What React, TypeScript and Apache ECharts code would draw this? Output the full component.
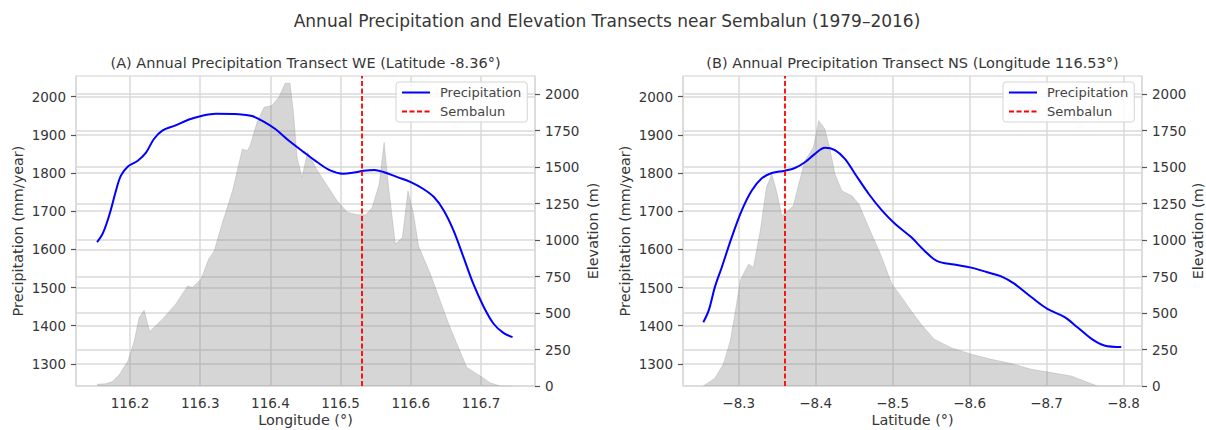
import React, { useEffect, useRef } from "react";
import * as echarts from "echarts";

// ---------- (A) West–East transect (latitude -8.36°) ----------
const wePrecipLon = [
  116.153, 116.161, 116.171, 116.18, 116.187, 116.197, 116.211, 116.223, 116.234, 116.246,
  116.264, 116.284, 116.303, 116.322, 116.355, 116.374, 116.388, 116.407, 116.426, 116.448,
  116.467, 116.486, 116.503, 116.519, 116.533, 116.548, 116.562, 116.581, 116.6, 116.618,
  116.633, 116.647, 116.661, 116.675, 116.689, 116.704, 116.718, 116.732, 116.745,
];
const wePrecipMm = [
  1619, 1641, 1693, 1754, 1793, 1817, 1832, 1854, 1889, 1911,
  1924, 1940, 1950, 1955, 1954, 1949, 1937, 1915, 1885, 1854,
  1828, 1806, 1798, 1801, 1806, 1808, 1802, 1789, 1776, 1758,
  1737, 1702, 1649, 1580, 1510, 1449, 1405, 1381, 1370,
];
const weElevLon = [
  116.153, 116.165, 116.175, 116.185, 116.197, 116.206, 116.213, 116.22, 116.228, 116.246,
  116.265, 116.282, 116.289, 116.301, 116.312, 116.32, 116.331, 116.346, 116.36, 116.367,
  116.371, 116.381, 116.391, 116.402, 116.412, 116.421, 116.428, 116.433, 116.438, 116.445,
  116.453, 116.467, 116.481, 116.495, 116.51, 116.524, 116.536, 116.545, 116.555, 116.562,
  116.569, 116.578, 116.588, 116.596, 116.604, 116.611, 116.628, 116.642, 116.656, 116.67,
  116.68, 116.699, 116.713, 116.727, 116.745,
];
const weElevM = [
  12, 15, 30, 80, 172, 309, 469, 520, 373, 458,
  561, 686, 675, 732, 870, 927, 1110, 1338, 1625, 1613,
  1647, 1808, 1911, 1922, 1979, 2075, 2075, 1865, 1568, 1430,
  1602, 1476, 1373, 1270, 1190, 1174, 1174, 1224, 1384, 1670,
  1338, 973, 1018, 1338, 1178, 961, 767, 583, 401, 240,
  126, 69, 23, 0, 0,
];
const sembalunLon = 116.53;

// ---------- (B) North–South transect (longitude 116.53°) ----------
const nsPrecipLat = [
  -8.254, -8.261, -8.269, -8.278, -8.291, -8.304, -8.317, -8.33, -8.343, -8.36,
  -8.373, -8.386, -8.399, -8.412, -8.425, -8.438, -8.451, -8.469, -8.486, -8.503,
  -8.524, -8.541, -8.558, -8.58, -8.602, -8.623, -8.641, -8.658, -8.68, -8.701,
  -8.723, -8.74, -8.758, -8.775, -8.797,
];
const nsPrecipMm = [
  1409, 1440, 1501, 1553, 1632, 1702, 1754, 1786, 1800, 1806,
  1813, 1828, 1850, 1866, 1860, 1837, 1798, 1745, 1702, 1667,
  1632, 1597, 1569, 1560, 1552, 1540, 1529, 1510, 1475, 1444,
  1423, 1396, 1366, 1348, 1344,
];
const nsElevLat = [
  -8.254, -8.269, -8.28, -8.289, -8.295, -8.302, -8.308, -8.313, -8.319, -8.328,
  -8.336, -8.343, -8.349, -8.356, -8.364, -8.371, -8.378, -8.386, -8.397, -8.404,
  -8.412, -8.419, -8.425, -8.434, -8.447, -8.456, -8.469, -8.486, -8.499, -8.512,
  -8.524, -8.537, -8.554, -8.576, -8.602, -8.628, -8.654, -8.68, -8.706, -8.732,
  -8.749, -8.766, -8.797,
];
const nsElevM = [
  0, 53, 149, 309, 492, 721, 789, 835, 813, 1064,
  1362, 1453, 1338, 1167, 1201, 1235, 1384, 1544, 1636, 1819,
  1762, 1613, 1453, 1338, 1304, 1247, 1087, 881, 698, 607,
  515, 423, 321, 263, 218, 183, 154, 115, 92, 69,
  34, 0, 0,
];
const sembalunLat = -8.36;

// ---------- tick labels ----------
const precipTicks = [1300, 1400, 1500, 1600, 1700, 1800, 1900, 2000];
const elevTicks = [0, 250, 500, 750, 1000, 1250, 1500, 1750, 2000];

const zip = (a: number[], b: number[]) => a.map((v, i) => [v, b[i]]);

const FONT = "DejaVu Sans";
const TXT = "#363636";
const GRIDC = "#dadada";
const TICK_FS = 13.5;

const isMult = (v: number, step: number) => Math.abs(v / step - Math.round(v / step)) < 1e-6;

export default function App() {
  const ref = useRef<HTMLDivElement>(null);
  useEffect(() => {
    const chart = echarts.init(ref.current!, null, { renderer: "svg" });

    const splitLine = { show: true, lineStyle: { color: GRIDC, width: 1.5 } };
    const yTick = { show: true, length: 5, lineStyle: { color: "#555", width: 1.2 } };

    const xAxisBase = (gi: number, min: number, max: number, inverse: boolean) => ({
      gridIndex: gi,
      type: "value",
      min,
      max,
      inverse,
      minInterval: 0.1,
      maxInterval: 0.1,
      axisLine: { show: false },
      axisTick: { show: false },
      axisLabel: {
        fontSize: TICK_FS,
        fontFamily: FONT,
        color: TXT,
        margin: 10,
        formatter: (v: number) =>
          isMult(v, 0.1) ? v.toFixed(1).replace("-", "\u2212") : "",
      },
      splitLine,
    });

    const yLeft = (gi: number) => ({
      gridIndex: gi,
      type: "value",
      position: "left",
      min: 1242,
      max: 2054,
      minInterval: 100,
      maxInterval: 100,
      axisLine: { show: false },
      axisTick: { ...yTick, customValues: precipTicks },
      axisLabel: {
        fontSize: TICK_FS,
        fontFamily: FONT,
        color: TXT,
        margin: 10,
        customValues: precipTicks,
        formatter: (v: number) => (isMult(v, 100) ? String(Math.round(v)) : ""),
      },
      splitLine,
    });

    const yRight = (gi: number) => ({
      gridIndex: gi,
      type: "value",
      position: "right",
      min: 0,
      max: 2125,
      interval: 250,
      axisLine: { show: false },
      axisTick: { ...yTick, customValues: elevTicks },
      axisLabel: {
        fontSize: TICK_FS,
        fontFamily: FONT,
        color: TXT,
        margin: 10,
        customValues: elevTicks,
        formatter: (v: number) => (isMult(v, 250) ? String(Math.round(v)) : ""),
      },
      splitLine,
    });

    const elevSeries = (xi: number, yi: number, data: number[][]) => ({
      name: "Elevation",
      type: "line",
      xAxisIndex: xi,
      yAxisIndex: yi,
      data,
      symbol: "none",
      silent: true,
      z: 1,
      lineStyle: { width: 0.8, color: "rgba(128,128,128,0.3)" },
      itemStyle: { color: "rgba(128,128,128,0.3)" },
      areaStyle: { color: "rgba(128,128,128,0.32)", opacity: 1, origin: "start" },
    });

    const precipSeries = (xi: number, yi: number, data: number[][]) => ({
      name: "Precipitation",
      type: "line",
      xAxisIndex: xi,
      yAxisIndex: yi,
      data,
      symbol: "none",
      smooth: 0.35,
      z: 3,
      color: "#0000ff",
      lineStyle: { width: 2, color: "#0000ff" },
    });

    const sembalunSeries = (xi: number, yi: number, x: number) => ({
      name: "Sembalun",
      type: "line",
      xAxisIndex: xi,
      yAxisIndex: yi,
      data: [],
      symbol: "none",
      z: 4,
      color: "#ff0000",
      lineStyle: { width: 1.8, color: "#ff0000", type: [5, 2.5] },
      markLine: {
        symbol: "none",
        silent: true,
        animation: false,
        label: { show: false },
        lineStyle: { width: 1.8, color: "#ff0000", type: [5, 2.5] },
        data: [{ xAxis: x }],
      },
    });

    const legendBase = (left: number) => ({
      left,
      top: 82,
      orient: "vertical",
      data: ["Precipitation", "Sembalun"],
      selectedMode: false,
      itemWidth: 28,
      itemHeight: 14,
      itemGap: 6,
      padding: [4, 6, 4, 5],
      itemStyle: { opacity: 0 },
      backgroundColor: "rgba(255,255,255,0.85)",
      borderColor: "#d4d4d4",
      borderWidth: 1,
      borderRadius: 3,
      textStyle: { fontSize: 13, fontFamily: FONT, color: "#444", padding: [0, 0, 0, 5] },
    });

    const text = (t: string, x: number, y: number, size: number, rot = 0) => ({
      type: "text",
      x,
      y,
      rotation: rot,
      silent: true,
      style: {
        text: t,
        fontSize: size,
        fontFamily: FONT,
        fill: TXT,
        align: "center",
        verticalAlign: "middle",
      },
    });

    chart.setOption({
      animation: false,
      textStyle: { fontFamily: FONT },
      grid: [
        { left: 76, top: 76, width: 459, height: 310, show: true, borderColor: "#cfcfcf", borderWidth: 1.2, backgroundColor: "transparent" },
        { left: 683, top: 76, width: 459, height: 310, show: true, borderColor: "#cfcfcf", borderWidth: 1.2, backgroundColor: "transparent" },
      ],
      xAxis: [xAxisBase(0, 116.123, 116.777, false), xAxisBase(1, -8.824, -8.2276, true)],
      yAxis: [yLeft(0), yRight(0), yLeft(1), yRight(1)],
      legend: [legendBase(396), legendBase(1003)],
      series: [
        elevSeries(0, 1, zip(weElevLon, weElevM)),
        precipSeries(0, 0, zip(wePrecipLon, wePrecipMm)),
        sembalunSeries(0, 0, sembalunLon),
        elevSeries(1, 3, zip(nsElevLat, nsElevM)),
        precipSeries(1, 2, zip(nsPrecipLat, nsPrecipMm)),
        sembalunSeries(1, 2, sembalunLat),
      ],
      graphic: [
        text("Annual Precipitation and Elevation Transects near Sembalun (1979\u20132016)", 607, 21, 17),
        text("(A) Annual Precipitation Transect WE (Latitude -8.36\u00b0)", 305.5, 63, 14.5),
        text("(B) Annual Precipitation Transect NS (Longitude 116.53\u00b0)", 912.5, 63, 14.5),
        text("Precipitation (mm/year)", 18, 231, 14.4, Math.PI / 2),
        text("Elevation (m)", 593, 231, 14.4, Math.PI / 2),
        text("Precipitation (mm/year)", 625, 231, 14.4, Math.PI / 2),
        text("Elevation (m)", 1198, 231, 14.4, Math.PI / 2),
        text("Longitude (\u00b0)", 305.5, 420, 14.4),
        text("Latitude (\u00b0)", 912.5, 420, 14.4),
      ],
    });
    return () => chart.dispose();
  }, []);
  return (
    <div
      ref={ref}
      style={{ position: "absolute", left: 0, top: 0, width: 1206, height: 430, background: "#fff" }}
    />
  );
}
